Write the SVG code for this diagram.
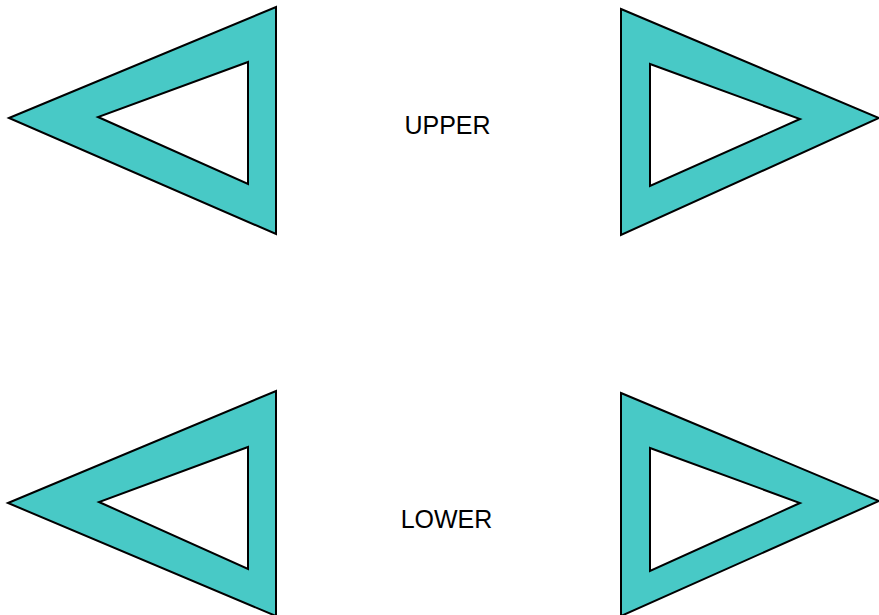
<svg xmlns="http://www.w3.org/2000/svg" width="879" height="615" viewBox="0 0 879 615">
<style>
.ring{fill:#48C9C6;stroke:#000;stroke-width:2;fill-rule:evenodd;stroke-linejoin:miter}
.lbl{font-family:"Liberation Sans",Arial,sans-serif;font-size:25px;fill:#000;text-anchor:middle}
</style>
<rect width="879" height="615" fill="#fff"/>
<g id="upper-left"><path class="ring" d="M9,118 L276,7 L276,234 Z M98,117 L248,184 L248,62 Z"/></g>
<g id="upper-right"><path class="ring" d="M621,9 L879,118 L621,235 Z M650,64 L650,186 L800,119 Z"/></g>
<g id="lower-left"><path class="ring" d="M8,503 L276,391 L276,616 Z M99,502 L248,569 L248,447 Z"/></g>
<g id="lower-right"><path class="ring" d="M621,393 L879,501 L621,616 Z M650,448 L650,571 L800,503 Z"/></g>
<g id="upper-label"><text class="lbl" x="447.5" y="133.5">UPPER</text></g>
<g id="lower-label"><text class="lbl" x="446.5" y="527.5">LOWER</text></g>
<g id="connectors"></g>
</svg>
